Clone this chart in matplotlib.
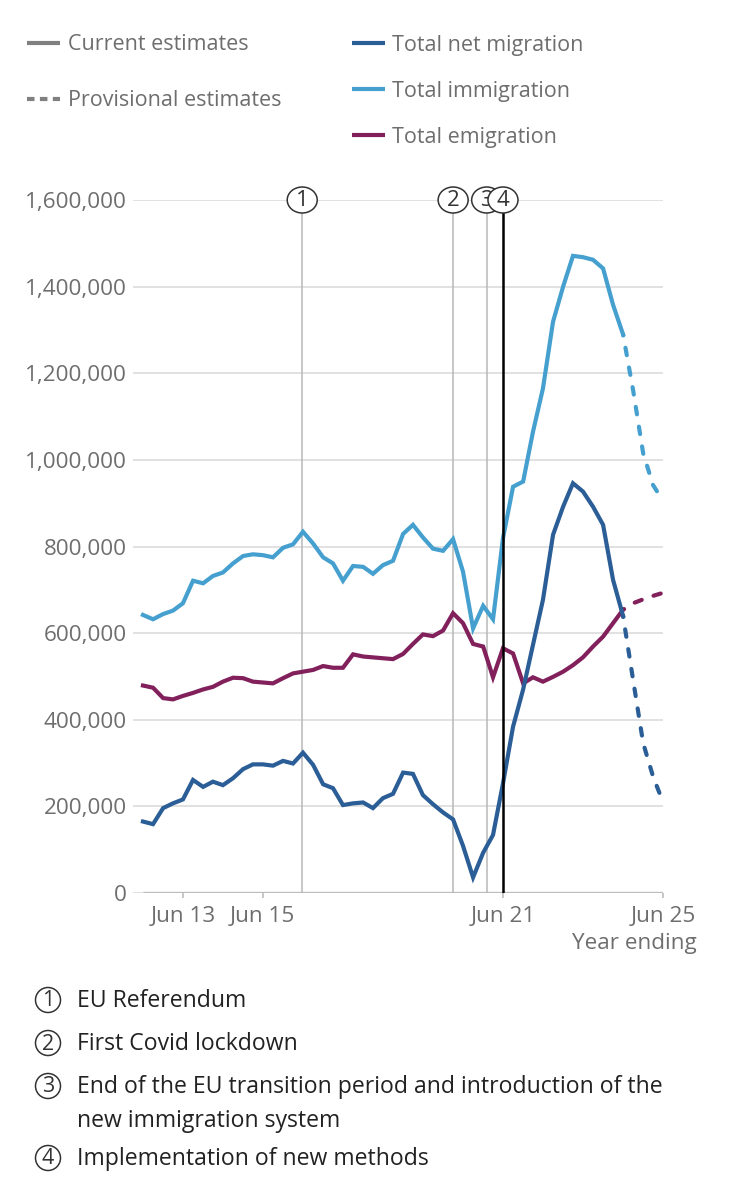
import matplotlib
matplotlib.use("Agg")
import matplotlib.pyplot as plt
import matplotlib.dates as mdates
from matplotlib.patches import Ellipse
import pandas as pd

plt.rcParams['font.family'] = ['Open Sans', 'DejaVu Sans']

# year ending, quarterly (Jun 12 .. Jun 24 current, Jun 24 .. Jun 25 provisional)
try:
    quarters = pd.date_range('2012-06-30', '2024-06-30', freq='QE')
    prov_quarters = pd.date_range('2024-06-30', '2025-06-30', freq='QE')
except ValueError:
    quarters = pd.date_range('2012-06-30', '2024-06-30', freq='Q')
    prov_quarters = pd.date_range('2024-06-30', '2025-06-30', freq='Q')

# thousands
immigration = [642, 632, 644, 652, 669, 721, 715, 732, 740, 761, 778, 782, 780,
               775, 797, 805, 834, 807, 775, 761, 721, 755, 753, 737, 757, 767,
               829, 850, 821, 795, 790, 817, 742, 611, 663, 632, 819, 938, 950,
               1065, 1165, 1319, 1400, 1471, 1468, 1462, 1442, 1358, 1290]
emigration = [479, 474, 450, 447, 455, 462, 470, 476, 488, 497, 496, 488, 486,
              484, 496, 507, 511, 515, 524, 520, 520, 551, 546, 544, 542, 540,
              552, 575, 597, 593, 606, 646, 623, 575, 569, 498, 565, 553, 484,
              498, 488, 499, 511, 526, 544, 569, 592, 623, 654]
net_migration = [165, 159, 196, 207, 216, 261, 245, 257, 249, 265, 286, 297, 297,
                 294, 305, 299, 324, 296, 251, 242, 203, 207, 209, 196, 219, 229,
                 278, 275, 226, 205, 186, 170, 109, 36, 93, 134, 253, 384, 470,
                 573, 677, 827, 892, 946, 927, 892, 850, 723, 640]

prov_immigration = [1290, 1161, 1015, 942, 905]
prov_emigration = [654, 669, 678, 686, 693]
prov_net = [640, 492, 346, 269, 210]

event_dates = ['2016-06-23', '2020-04-01', '2021-02-01', '2021-06-30']
event_labels = ['1', '2', '3', '4']
event_notes = [['EU Referendum'], ['First Covid lockdown'],
               ['End of the EU transition period and introduction of the',
                'new immigration system'],
               ['Implementation of new methods']]

yticks = [0, 200000, 400000, 600000, 800000, 1000000, 1200000, 1400000, 1600000]
xtick_dates = ['2013-06-30', '2015-06-30', '2021-06-30', '2025-06-30']
xtick_labels = ['Jun 13', 'Jun 15', 'Jun 21', 'Jun 25']

c_net = '#2b5e96'
c_imm = '#45a0cf'
c_emi = '#82205c'
grey_txt = '#6e6e6e'
FS = 15.5
TFS = 16.2
NFS = 16.6
LW = 3.0

fig = plt.figure(figsize=(7.31, 12), dpi=100)
ax = fig.add_axes([133 / 731, 1 - 893 / 1200, 530 / 731, 693 / 1200])

for vals, pvals, col in [(immigration, prov_immigration, c_imm),
                         (emigration, prov_emigration, c_emi),
                         (net_migration, prov_net, c_net)]:
    ax.plot(quarters, [v * 1000 for v in vals], color=col, lw=LW,
            solid_joinstyle='miter', zorder=3)
    ax.plot(prov_quarters, [v * 1000 for v in pvals], color=col, lw=LW,
            ls=(1.5, (1.8, 3.0)), dash_capstyle='round', zorder=3)

# gridlines and baseline
for yt in yticks:
    ax.axhline(yt, color='#d9d9d9', lw=1.1, zorder=1)
ax.plot([quarters[0], pd.Timestamp('2025-06-30')], [0, 0], color='#bdbdbd',
        lw=2.4, solid_capstyle='butt', zorder=2)

# event lines with numbered markers
for i, (d, lab) in enumerate(zip(event_dates, event_labels)):
    d = pd.Timestamp(d)
    if lab == '4':
        ax.plot([d, d], [0, 1600000], color='black', lw=1.8, zorder=4)
    else:
        ax.plot([d, d], [0, 1600000], color='#b8b8b8', lw=1.1, zorder=2)
    e = Ellipse((mdates.date2num(d), 1600000), 274, 60000, facecolor='white',
                edgecolor='#333333', lw=1.1, clip_on=False, zorder=5 + 2 * i)
    ax.add_patch(e)
    ax.text(d, 1600000, lab, ha='center', va='center', fontsize=FS + 0.5,
            color='#333333', zorder=6 + 2 * i)

ax.set_xlim(pd.Timestamp('2012-03-31'), pd.Timestamp('2025-06-30'))
ax.set_ylim(0, 1600000)
ax.set_yticks(yticks)
ax.set_yticklabels([f'{v:,}' for v in yticks])
ax.set_xticks([pd.Timestamp(d) for d in xtick_dates])
ax.set_xticklabels(xtick_labels)
ax.tick_params(axis='y', length=0, pad=4.5, labelsize=TFS, labelcolor=grey_txt)
ax.tick_params(axis='x', length=3.5, width=1.2, color='#bdbdbd', pad=6,
               labelsize=TFS, labelcolor=grey_txt)
for s in ax.spines.values():
    s.set_visible(False)
ax.patch.set_alpha(0)

fig.text(697 / 731, 1 - 943 / 1200, 'Year ending', ha='right', va='center',
         fontsize=TFS, color=grey_txt)

# overlay in pixel coordinates for legend and notes
ov = fig.add_axes([0, 0, 1, 1], zorder=-1)
ov.set_xlim(0, 731)
ov.set_ylim(1200, 0)
ov.axis('off')

ov.plot([27, 60], [43, 43], color='#808080', lw=LW, solid_capstyle='butt')
ov.plot([27, 60], [99, 99], color='#808080', lw=LW, ls=(0, (1.8, 1.3)),
        dash_capstyle='butt')
ov.text(68, 45, 'Current estimates', va='center', fontsize=FS, color=grey_txt)
ov.text(68, 101, 'Provisional estimates', va='center', fontsize=FS, color=grey_txt)

for yy, col, lab in [(43, c_net, 'Total net migration'),
                     (89, c_imm, 'Total immigration'),
                     (135, c_emi, 'Total emigration')]:
    ov.plot([352, 385], [yy, yy], color=col, lw=LW, solid_capstyle='butt')
    ov.text(392, yy + 2, lab, va='center', fontsize=FS, color=grey_txt)

note_y = [1000, 1043, 1086, 1158]
for yy, lab, lines in zip(note_y, event_labels, event_notes):
    ov.add_patch(Ellipse((48, yy), 25, 25, facecolor='white', edgecolor='#333333', lw=1.1))
    ov.text(48, yy + 1, lab, ha='center', va='center', fontsize=FS, color='#333333')
    for k, line in enumerate(lines):
        ov.text(77, yy + 1 + 34 * k, line, ha='left', va='center', fontsize=NFS,
                color='#222222')

fig.savefig('out.png', dpi=100)
